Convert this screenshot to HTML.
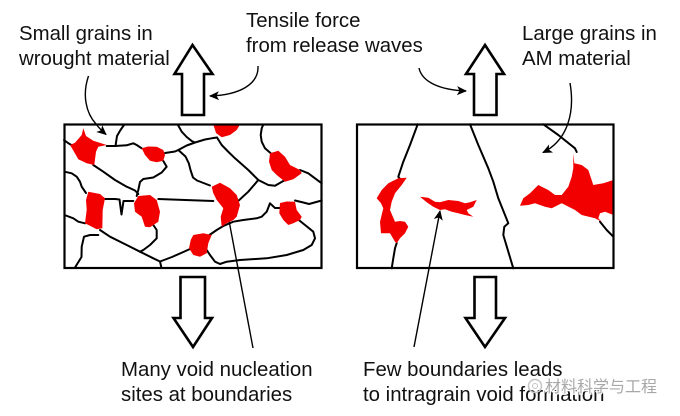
<!DOCTYPE html>
<html><head><meta charset="utf-8"><style>
html,body{margin:0;padding:0;background:#fff;}
svg{display:block;}
text{font-family:"Liberation Sans",Arial,sans-serif;font-size:20.4px;fill:#111;}
.wm{font-family:"Liberation Sans","Noto Sans CJK SC",sans-serif;font-size:16px;fill:#a8a8a8;stroke:#fff;stroke-width:2.5px;paint-order:stroke;}
.gb{fill:none;stroke:#000;stroke-width:2;stroke-linejoin:round;stroke-linecap:round;}
.red{fill:#f20000;stroke:none;}
.big{fill:#fff;stroke:#000;stroke-width:2.6;stroke-linejoin:miter;}
.ar{fill:none;stroke:#000;stroke-width:1.4;}
</style></head><body>
<svg width="680" height="416" viewBox="0 0 680 416" xmlns="http://www.w3.org/2000/svg">
<defs>
<marker id="ah2" viewBox="0 0 10 10" refX="9" refY="5" markerWidth="10" markerHeight="10" orient="auto" markerUnits="userSpaceOnUse">
<path d="M0,0.5 L10,5 L0,9.5 L2.5,5 Z" fill="#000"/>
</marker>
</defs>
<rect width="680" height="416" fill="#fff"/>

<!-- labels -->
<text x="19" y="40">Small grains in</text>
<text x="19" y="65">wrought material</text>
<text x="246" y="27">Tensile force</text>
<text x="246" y="52">from release waves</text>
<text x="522" y="40">Large grains in</text>
<text x="522" y="65">AM material</text>
<text x="121" y="376">Many void nucleation</text>
<text x="121" y="401">sites at boundaries</text>
<text x="363" y="376">Few boundaries leads</text>
<text x="363" y="401">to intragrain void formation</text>

<!-- big arrows -->
<polygon class="big" points="192.5,45 212.5,74 204,74 204,115 182,115 182,74 174.5,74"/>
<polygon class="big" points="485,45 504,74 496.5,74 496.5,115 474,115 474,74 466,74"/>
<polygon class="big" points="180.5,277 205,277 205,318 212,318 193,347 173.5,318 180.5,318"/>
<polygon class="big" points="474.5,277 496,277 496,318 505,318 485,347 465.5,318 474.5,318"/>

<!-- curved pointer arrows -->
<path class="ar" d="M88.5,76 C82,95 86,113 96,124 C99,128 102,131 106,134.5" marker-end="url(#ah2)"/>
<path class="ar" d="M258,66 C259,84 240,95 210,96" marker-end="url(#ah2)"/>
<path class="ar" d="M419,68 C422,82 440,90 466,91" marker-end="url(#ah2)"/>
<path class="ar" d="M570,83 C575,112 568,140 543,152.5" marker-end="url(#ah2)"/>
<path class="ar" d="M253,348 L227,210" marker-end="url(#ah2)"/>
<path class="ar" d="M414,347 L440,211" marker-end="url(#ah2)"/>

<!-- LEFT BOX -->
<g class="gb">
<polyline points="64,140 68,143 73,146"/>
<polyline points="124,125 120.5,130 117,136 115.5,146"/>
<polyline points="106.7,146 115,146 126.7,145.3 133.3,143.3 136.7,145 141.7,148.3"/>
<polyline points="165,153 175,151.5 178.3,150 186.7,145.5 195,142.5 205,139.5 211.7,138.3 217,137.5"/>
<polyline points="178,125 181.7,131.7 186.7,137 191.7,141 195,142.5"/>
<polyline points="217,137.5 221.7,145 228,151.5 235,158.3 248.3,170 258.3,180 268.3,185 275,185.7 285,180"/>
<polyline points="178.3,150 185.5,156.5 188.8,163.3 190.5,170 193,177.5 197,180.5 210,185.5"/>
<polyline points="163.3,161 166.7,166.7 161.7,172.5 153.3,177.5 143.3,179 140,182 138.3,190 136.7,196"/>
<polyline points="93.3,165 103.3,171.7 115,180 126.7,186.7 135,190.5 138.3,194"/>
<polyline points="64.5,171.7 71.7,173.3 76.7,176.7 80,181.7 81.7,186.7 86,193"/>
<polyline points="103,199 115,199 119.5,199.5 121.5,214.5 123.5,201 133.3,201"/>
<polyline points="158.3,199 185,200 213.3,201"/>
<polyline points="85,223.3 78.3,221.7 73.3,218.3 64.5,215"/>
<polyline points="100,230 110,236.7 126.7,245 140,251.7 153.3,258.3 160,261.5 161.5,268"/>
<polyline points="153.3,225 156.7,230 156.7,238.3 150,245 143.3,250 140,251.7"/>
<polyline points="98.3,235 90,235 84,236.7 81.7,246.7 81.5,257 75,267.5"/>
<polyline points="160,261.5 172,257 183.3,252 190,249"/>
<polyline points="208,236 216.7,230 223.3,226 233.3,221.7 243.3,220 256.7,218.3 261.7,216.7 266.7,211.7 270,203.3 275,208 281,208"/>
<polyline points="296.7,218.3 305,225 313.3,231.7 315,238.3 311.7,245 303.3,250 286.7,255 266.7,258.3 240,260 226.7,261.7 220,264 215,261.7 210,255 206.7,250"/>
<polyline points="295,200.5 303.3,202.5 309,204 321.7,200.5"/>
<polyline points="236,203 248.3,191.7 258.3,180"/>
<polyline points="271,153.5 265,148.3 261.7,141.7 260.7,135 261.7,128.3 263.3,124.5"/>
<polyline points="300,170 308.3,173.3 315,178.3 321.7,183.3"/>
</g>
<g class="red">
<polygon points="70,145 75,142.7 81.7,135 83.3,128.3 86,136 93.3,140.7 106.7,145 98.3,146.7 96,151.7 94.3,165 86.7,163.3 78.3,159.3 74,151.7"/>
<polygon points="141.7,148.3 148,146.5 156.7,146.7 163.3,150 165,155 163.3,160.7 156.7,162.3 150,160.7 145,155"/>
<polygon points="88.3,191.7 100,194 105,198.3 102.7,210 102.3,228.3 96.7,229.3 85,223.3 86.7,210 86,200"/>
<polygon points="138.3,196 150,195 156.7,200 160,211.7 158.3,221.7 150,227.3 145,226.7 141.7,216.7 135,211.7 134,203.3"/>
<polygon points="213.3,124.5 240,124.5 236.7,130 230,135 221.7,137.3 216,133"/>
<polygon points="270,153.3 278.3,150.7 285,156.7 290,165 300,170 301.7,173.3 293.3,179.3 285,181.7 276.7,175 271.7,170 269,161.7"/>
<polygon points="211.7,186.7 220,182.7 230,188.3 236.7,195 240,205 236.7,216.7 233.3,220 226.7,223.3 221.7,226.7 220.7,216.7 223.3,208.3 216.7,200 213.3,193.3"/>
<polygon points="280,203 286.7,201.5 295,201.7 296.7,210 301.7,216.7 300,220 293.3,223.3 288.3,225 283.3,220 279.3,213.3"/>
<polygon points="193.3,235 203.3,233.3 211.7,235 208.3,243.3 206.7,253.3 200,256.7 193.3,255 189,248.3 190.7,240"/>
</g>
<rect x="64.5" y="124.5" width="257" height="143.5" fill="none" stroke="#000" stroke-width="2.2"/>

<!-- RIGHT BOX -->
<g class="gb">
<polyline points="417.7,124.3 410,145 403.3,161.7 398.3,176.7 400,179"/>
<polyline points="396.7,243 395,248.3 393.3,258.3 391.7,268.3"/>
<polyline points="470,124.3 478.3,145 488.3,168.3 493.3,181.7 498.3,198.3 505,215 508.3,223.3 504.3,226.7 503.3,235 508.3,251.7 513.3,268.3"/>
<polyline points="543.3,124.3 558.3,135 575,148.3 576.7,152"/>
<polyline points="600,221.7 606.7,230 613.3,236.7"/>
</g>
<g class="red">
<polygon points="398.3,178.3 406.7,177.7 401.7,185 395,193.3 391.7,201.7 390,210 395,221.7 400,221 405,221.7 408.3,226.7 405,233.3 400,238.3 396.7,243.3 395,241.7 390,233.3 381,233.3 380,221.7 383.3,208.3 381,203.3 376.7,198.3 381.7,190 388.3,183.3"/>
<polygon points="420,196.7 428.3,197.7 435,201.7 440,202.3 448.3,200 458.3,201 465,203.3 470,202.3 476.7,200 473.3,206.7 466.7,210 468.3,213.3 473.3,216.7 465,215 458.3,213.3 451.7,211.7 445,209.3 440,210 433.3,206.7 426.7,202.3"/>
<polygon points="573.3,153.3 574.3,163.3 581.7,165 588.3,170 593.3,185 603.3,183.3 613.3,180 613.3,215 605,211.7 600,213.3 598.3,218.3 601.7,221.7 595,218.3 581.7,215 575,210 561.7,203.3 551.7,208.3 545,206.7 535,203.3 528.3,205 520,205.7 523.3,198.3 530,193.3 538.3,185 541.7,186.7 548.3,190 555,195 561.7,195 568.3,186.7 571.7,176.7 573.3,168.3"/>
</g>
<rect x="357" y="124.5" width="256.5" height="143.5" fill="none" stroke="#000" stroke-width="2.2"/>

<!-- watermark -->
<circle cx="535" cy="386" r="6.5" fill="none" stroke="#c4c4c4" stroke-width="1.5"/>
<circle cx="535" cy="386" r="2.5" fill="none" stroke="#c4c4c4" stroke-width="1"/>
<text class="wm" x="545" y="392">材料科学与工程</text>
</svg>
</body></html>
